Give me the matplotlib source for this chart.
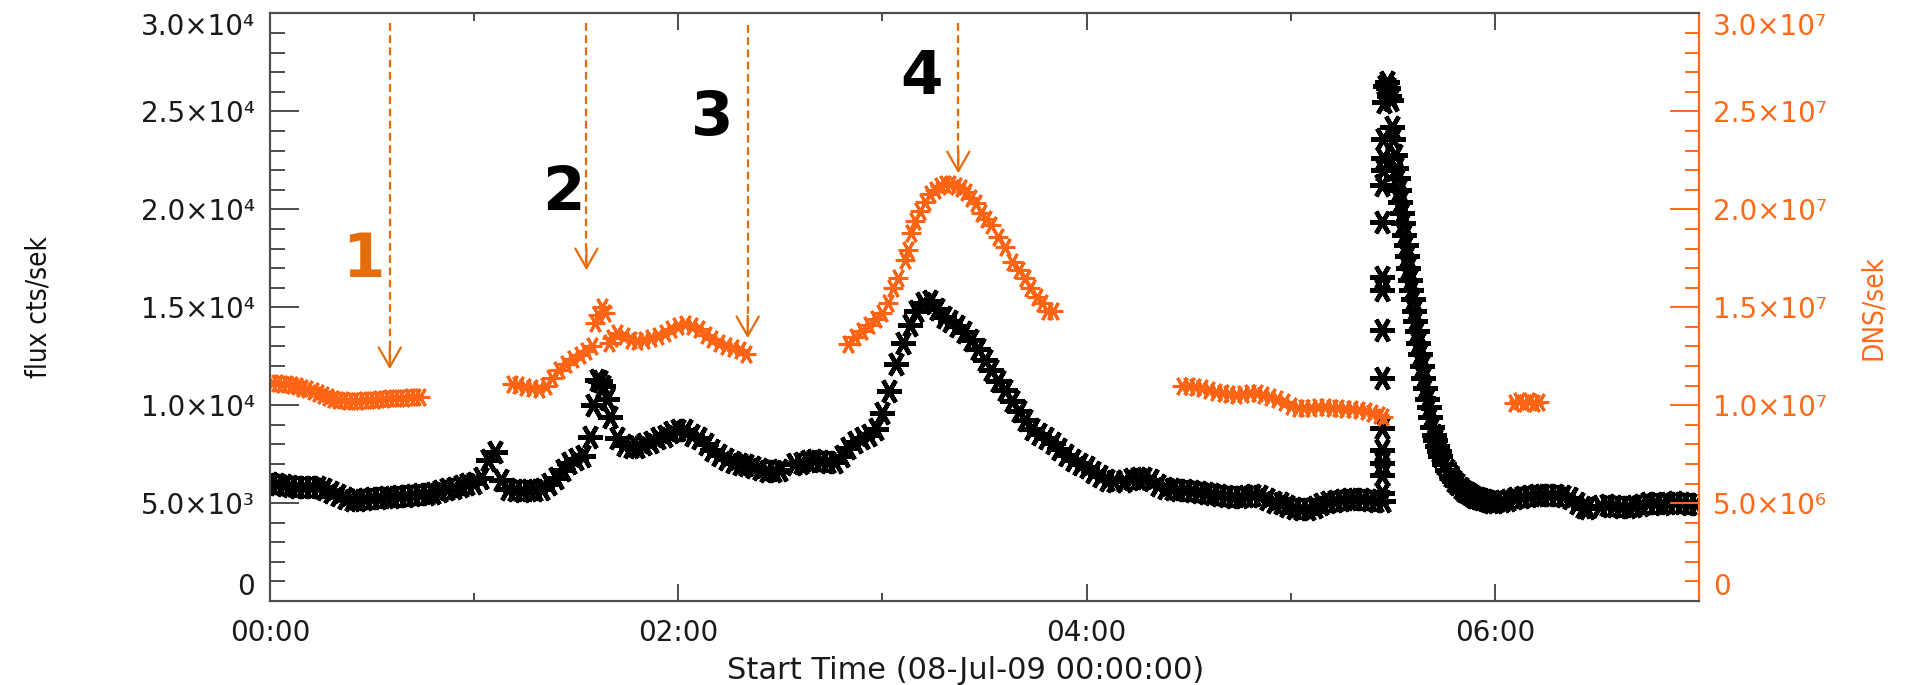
import numpy as np
import matplotlib
matplotlib.use("Agg")
import matplotlib.pyplot as plt
from matplotlib.ticker import FixedLocator, FuncFormatter

# ---- flux cts/sek (black), time in minutes after 08-Jul-09 00:00 ----
flux_t1 = [0, 2, 4, 6, 8, 10, 12, 14, 16, 18, 20, 22, 24, 26, 28, 30, 32, 34, 36, 38,
           40, 42, 44, 46, 48, 50, 52, 54, 56, 58, 60, 62, 64, 66, 68, 70, 72, 74, 76, 78,
           80, 82, 84, 86, 88, 90, 92, 94, 95, 96, 97, 98, 99, 100, 102, 104, 106, 108, 110,
           112, 114, 116, 118, 120, 122, 124, 126, 128, 130, 132, 134, 136, 138, 140, 142,
           144, 146, 148, 150]
flux_v1 = [6020, 5950, 5900, 5880, 5830, 5820, 5800, 5800, 5700, 5560, 5420, 5250, 5150, 5180,
           5230, 5260, 5280, 5300, 5330, 5360, 5380, 5400, 5440, 5480, 5520, 5600, 5700, 5780,
           5850, 5950, 6050, 6300, 7200, 7600, 6200, 5700, 5650, 5600, 5650, 5650, 5700, 5950,
           6300, 6700, 7050, 7250, 7400, 8400, 10000, 11300, 11250, 11000, 10300, 9400, 8300,
           7950, 7880, 7870, 8000, 8100, 8300, 8450, 8650, 8750, 8720, 8500, 8300, 8000, 7700,
           7450, 7250, 7100, 7000, 6950, 6850, 6750, 6650, 6650, 6700]

flux_t2 = [154, 156, 158, 160, 162, 164, 166, 168, 170, 172, 174, 176, 178, 180, 182, 184,
           186, 188, 190, 192, 194, 196, 198, 200, 202, 204, 206, 208, 210, 212, 214, 216,
           218, 220, 222, 224, 226, 228, 230, 232, 234, 236, 238, 240, 242, 244, 246, 248]
flux_v2 = [7000, 7050, 7150, 7200, 7150, 7100, 7100, 7400, 7800, 8100, 8300, 8500, 8800, 9600,
           10700, 12100, 13200, 14100, 14800, 15200, 15300, 14900, 14500, 14300, 14050, 13750,
           13350, 12850, 12300, 11800, 11250, 10750, 10200, 9700, 9250, 8800, 8550, 8300, 8050,
           7750, 7450, 7200, 7000, 6850, 6600, 6400, 6200, 6150]

flux_t3 = [251, 253, 255, 257, 259, 261, 263, 265, 267, 269, 271, 273, 275, 277, 279, 281,
           283, 285, 287, 289, 291, 293, 295, 297, 299, 301, 303, 305, 307, 309, 311, 313,
           315, 317, 319, 321, 323, 325, 327]
flux_v3 = [6150, 6250, 6300, 6300, 6200, 5900, 5750, 5700, 5680, 5650, 5600, 5550, 5500, 5450,
           5400, 5350, 5320, 5300, 5350, 5420, 5350, 5200, 5080, 5000, 4850, 4750, 4700, 4700,
           4800, 4950, 5050, 5100, 5150, 5200, 5200, 5200, 5150, 5100, 5100]

# sparse samples on the impulsive rise
flux_t4 = [326.9, 326.9, 326.9, 326.9, 326.9, 326.9, 326.9, 326.9, 326.9, 326.9, 326.9,
           327.2, 327.2, 327.2]
flux_v4 = [5510, 6430, 7040, 7700, 8830, 11380, 13830, 15870, 16530, 19340, 21220,
           22000, 22600, 23600]

flux_t5 = [327.4, 327.8, 328.2, 328.6, 329.0, 329.4, 329.8, 330.2, 330.6, 331.0, 331.4, 331.8,
           332.2, 332.6, 333.0, 333.4, 333.8, 334.2, 334.6, 335.0, 335.4, 335.8, 336.2, 336.6,
           337.0, 337.5, 338.0, 338.5, 339.0, 339.5, 340.0, 340.5, 341.0, 341.5, 342.0, 342.5,
           343.0, 343.5, 344.0, 345, 346, 347, 348, 349, 350, 351, 352, 353, 354, 355, 356,
           357, 358, 359, 360, 362, 364, 366, 368, 370, 372, 374, 376, 378, 380, 382, 384,
           386, 387]
flux_v5 = [25500, 26300, 26500, 26200, 25800, 25600, 24200, 23600, 22800, 22100, 21600, 21000,
           20400, 19800, 19300, 18700, 18200, 17600, 17000, 16400, 15900, 15400, 14800, 14300,
           13800, 13200, 12600, 12000, 11400, 10900, 10300, 9900, 9400, 8900, 8500, 8200,
           7900, 7650, 7400, 7000, 6700, 6400, 6150, 5950, 5750, 5600, 5500, 5400, 5300, 5250,
           5200, 5150, 5100, 5080, 5050, 5100, 5150, 5250, 5300, 5350, 5400, 5400, 5400, 5400,
           5350, 5250, 5000, 4800, 4750]

flux_t6 = [391, 393, 395, 397, 399, 401, 403, 405, 407, 409, 411, 413, 415, 417, 419]
flux_v6 = [4850, 4900, 4850, 4800, 4800, 4850, 4900, 5000, 5000, 4950, 5000, 5050, 5000,
           4950, 4950]

# ---- DNS/sek (orange, right axis) ----
dns_t1 = [0.6, 2, 3.5, 5, 6.5, 8, 9.5, 11, 12.5, 14, 15.5, 17, 18.5, 20, 21.5, 23, 24.5, 26,
          27.5, 29, 30.5, 32, 33.5, 35, 36.5, 38, 39.5, 41, 42.5, 44]
dns_v1 = [1.115e7, 1.112e7, 1.110e7, 1.108e7, 1.105e7, 1.098e7, 1.090e7, 1.083e7, 1.073e7,
          1.062e7, 1.050e7, 1.040e7, 1.032e7, 1.028e7, 1.025e7, 1.022e7, 1.022e7, 1.022e7,
          1.024e7, 1.025e7, 1.027e7, 1.030e7, 1.032e7, 1.035e7, 1.036e7, 1.037e7, 1.038e7,
          1.040e7, 1.041e7, 1.043e7]

dns_t2 = [71, 73, 75, 77, 79, 81, 83, 85, 87, 89, 91, 93, 94.5, 95.5, 96.5, 97.5, 98.5, 99.5,
          100.5, 102, 104, 106, 108, 110, 112, 114, 116, 118, 120, 122, 124, 126, 128, 130,
          132, 134, 136, 138, 140]
dns_v2 = [1.110e7, 1.105e7, 1.095e7, 1.088e7, 1.085e7, 1.100e7, 1.140e7, 1.180e7, 1.210e7,
          1.235e7, 1.255e7, 1.275e7, 1.300e7, 1.420e7, 1.460e7, 1.500e7, 1.470e7, 1.320e7,
          1.345e7, 1.370e7, 1.355e7, 1.335e7, 1.330e7, 1.335e7, 1.345e7, 1.355e7, 1.370e7,
          1.390e7, 1.405e7, 1.415e7, 1.405e7, 1.390e7, 1.360e7, 1.340e7, 1.315e7, 1.300e7,
          1.290e7, 1.280e7, 1.262e7]

dns_t3 = [170, 172, 174, 176, 178, 180, 181.5, 183, 184.5, 186.5, 187.5, 188.5, 189.5, 191,
          192.5, 194, 195.5, 197, 198.5, 200, 201.5, 203, 204.5, 206, 207.5, 209, 210.5, 212,
          214, 216, 218, 220, 222, 223.5, 225.5, 227, 228.5, 230]
dns_v3 = [1.31e7, 1.35e7, 1.38e7, 1.41e7, 1.44e7, 1.47e7, 1.52e7, 1.60e7, 1.65e7, 1.74e7,
          1.79e7, 1.88e7, 1.94e7, 1.99e7, 2.04e7, 2.08e7, 2.10e7, 2.12e7, 2.13e7, 2.13e7,
          2.12e7, 2.11e7, 2.09e7, 2.06e7, 2.03e7, 1.98e7, 1.95e7, 1.92e7, 1.86e7, 1.81e7,
          1.73e7, 1.69e7, 1.65e7, 1.60e7, 1.55e7, 1.52e7, 1.48e7, 1.48e7]

dns_t4 = [268, 270, 272, 274, 276, 278, 280, 282, 284, 286, 288, 290, 292, 294, 296, 298,
          300, 302, 304, 306, 308, 310, 312, 314, 316, 318, 320, 322, 324, 326, 327]
dns_v4 = [1.100e7, 1.100e7, 1.095e7, 1.090e7, 1.080e7, 1.067e7, 1.060e7, 1.055e7, 1.052e7,
          1.055e7, 1.062e7, 1.062e7, 1.052e7, 1.040e7, 1.030e7, 1.015e7, 0.995e7, 0.985e7,
          0.985e7, 0.988e7, 0.990e7, 0.990e7, 0.988e7, 0.985e7, 0.982e7, 0.978e7, 0.975e7,
          0.970e7, 0.962e7, 0.950e7, 0.940e7]

dns_t5 = [365.5, 367, 368.5, 370, 371.5, 373]
dns_v5 = [1.01e7, 1.02e7, 1.01e7, 1.02e7, 1.01e7, 1.015e7]

# axis ticks
x_major = [0, 120, 240, 360]
x_minor = [60, 180, 300, 420]
flux_major = [0, 5000, 10000, 15000, 20000, 25000, 30000]
dns_major = [0, 5e6, 1e7, 1.5e7, 2e7, 2.5e7, 3e7]

# marked times (arrows) and labels
arrow_t = [35.2, 93.0, 140.4, 202.3]
arrow_top = [29500, 29500, 29400, 29500]
arrow_tip = [11840, 16890, 13420, 21840]
event_names = ["1", "2", "3", "4"]
event_t = [27.3, 86.1, 129.9, 191.5]
event_y = [17400, 20800, 24640, 26730]

BLACK = "#000000"
ORANGE = "#FF6414"
AXIS_ORANGE = "#FF6A1A"
ARROW = "#E46C0A"
SPINE = "#4d4d4d"

SUP = str.maketrans("0123456789-", "⁰¹²³⁴⁵⁶⁷⁸⁹⁻")


def sci_label(v, pos):
    if v <= 0:
        return "0"
    e = int(np.floor(np.log10(v) + 1e-9))
    return f"{v / 10**e:.1f}×10{str(e).translate(SUP)}"


def hhmm(v, pos):
    return f"{int(v // 60):02d}:{int(v % 60):02d}"


fig = plt.figure(figsize=(19.15, 6.85), dpi=100)
ax = fig.add_axes([0.141, 0.1226, 0.7462, 0.8577])
ax2 = ax.twinx()

marker = (6, 2, 90)
flux_t = np.concatenate([flux_t1, flux_t2, flux_t3, flux_t4, flux_t5, flux_t6])
flux_v = np.concatenate([flux_v1, flux_v2, flux_v3, flux_v4, flux_v5, flux_v6])
ax.plot(flux_t, flux_v, ls="none", marker=marker, ms=18, mew=3.2, color=BLACK)

dns_t = np.concatenate([dns_t1, dns_t2, dns_t3, dns_t4, dns_t5])
dns_v = np.concatenate([dns_v1, dns_v2, dns_v3, dns_v4, dns_v5])
ax2.plot(dns_t, dns_v, ls="none", marker=marker, ms=14, mew=2.2, color=ORANGE)

ax.set_xlim(0, 420)
ax.set_ylim(0, 30000)
ax2.set_ylim(0, 3.0e7)

ax.xaxis.set_major_locator(FixedLocator(x_major))
ax.xaxis.set_minor_locator(FixedLocator(x_minor))
ax.xaxis.set_major_formatter(FuncFormatter(hhmm))
ax.yaxis.set_major_locator(FixedLocator(flux_major))
ax.yaxis.set_minor_locator(FixedLocator(np.arange(0, 30001, 1000)))
ax.yaxis.set_major_formatter(FuncFormatter(sci_label))
ax2.yaxis.set_major_locator(FixedLocator(dns_major))
ax2.yaxis.set_minor_locator(FixedLocator(np.arange(0, 3.0e7 + 1, 1e6)))
ax2.yaxis.set_major_formatter(FuncFormatter(sci_label))

TICK_SIZE = 20
ax.tick_params(axis="x", which="both", direction="in", top=True, bottom=True,
               color=SPINE, width=1.4, labelsize=TICK_SIZE, pad=13, labelcolor="#1a1a1a")
ax.tick_params(axis="x", which="major", length=12)
ax.tick_params(axis="x", which="minor", length=6)
ax.tick_params(axis="y", which="both", direction="in", left=True, right=False,
               color=SPINE, width=1.4, labelsize=TICK_SIZE, pad=11, labelcolor="#1a1a1a")
ax.tick_params(axis="y", which="major", length=21)
ax.tick_params(axis="y", which="minor", length=11)
ax2.tick_params(axis="y", which="both", direction="in", color=AXIS_ORANGE, width=1.4,
                labelsize=TICK_SIZE, pad=10, labelcolor=AXIS_ORANGE)
ax2.tick_params(axis="y", which="major", length=21)
ax2.tick_params(axis="y", which="minor", length=10)

for a in (ax, ax2):
    for side in ("left", "top", "bottom"):
        a.spines[side].set_color(SPINE)
        a.spines[side].set_linewidth(1.5)
ax.spines["right"].set_visible(False)
ax2.spines["right"].set_color(AXIS_ORANGE)
ax2.spines["right"].set_linewidth(1.6)

label_font = ["Liberation Sans Narrow", "DejaVu Sans"]
ax.set_ylabel("flux cts/sek", family=label_font, fontstretch="condensed", fontsize=20,
              color="#111111")
ax.yaxis.set_label_coords(-0.152, 0.5)
ax2.set_ylabel("DNS/sek", family=label_font, fontstretch="condensed", fontsize=20,
               color=AXIS_ORANGE, rotation=90)
ax2.yaxis.set_label_coords(1.112, 0.5)
ax.set_xlabel("Start Time (08-Jul-09 00:00:00)", family="DejaVu Sans", fontsize=22,
              color="#1a1a1a")
ax.xaxis.set_label_coords(0.487, -0.093)

# event arrows
for t, top, tip in zip(arrow_t, arrow_top, arrow_tip):
    ax.plot([t, t], [top, tip + 300], ls=(0, (3.5, 2)), lw=1.6, color=ARROW)
    ax.annotate("", xy=(t, tip), xytext=(0, 16), textcoords="offset points",
                xycoords="data",
                arrowprops=dict(arrowstyle="->,head_length=0.7,head_width=0.4",
                                color=ARROW, lw=1.6, mutation_scale=20,
                                shrinkA=0, shrinkB=0))

for name, t, y in zip(event_names, event_t, event_y):
    ax.text(t, y, name, ha="center", va="center", fontsize=44, fontweight="bold",
            family="DejaVu Sans", color=ARROW if name == "1" else "#000000")

fig.canvas.draw()
# keep the end labels inside the frame
for a in (ax, ax2):
    labs = a.get_yticklabels()
    labs[0].set_va("bottom")
    labs[-1].set_va("top")

fig.savefig("out.png", dpi=100)
